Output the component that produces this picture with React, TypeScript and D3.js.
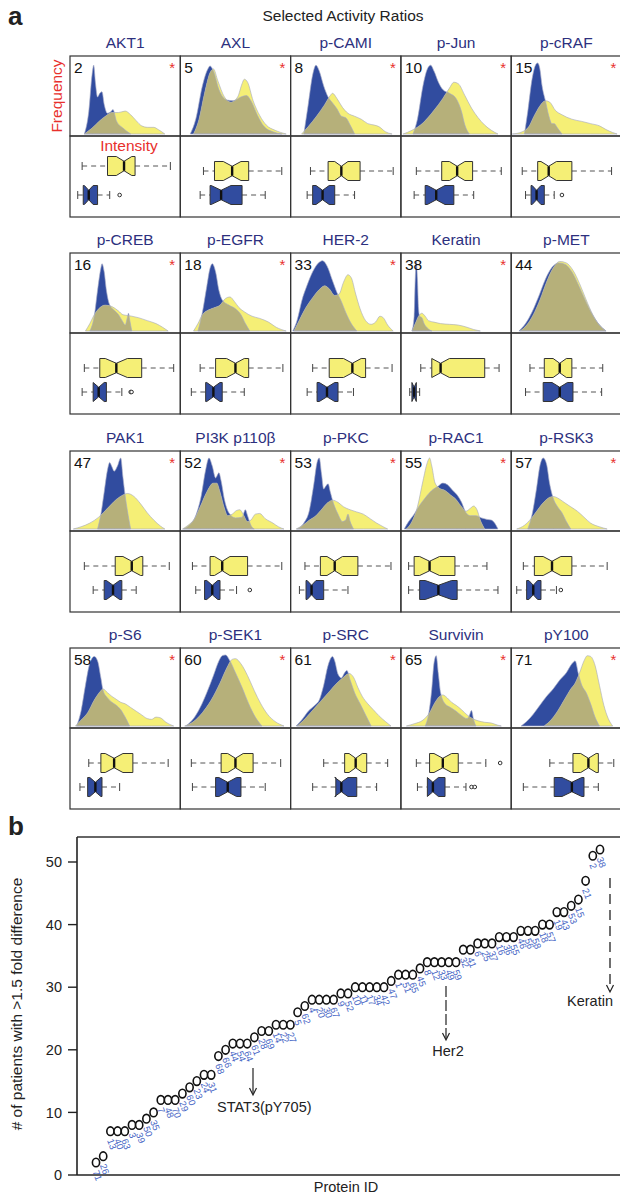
import React from "react";
import * as d3 from "d3";

// ---- panel a: selected activity ratios ----
const proteins = ["AKT1", "AXL", "p-CAMI", "p-Jun", "p-cRAF", "p-CREB", "p-EGFR", "HER-2", "Keratin", "p-MET",
  "PAK1", "PI3K p110β", "p-PKC", "p-RAC1", "p-RSK3", "p-S6", "p-SEK1", "p-SRC", "Survivin", "pY100"];
const proteinNums = [2, 5, 8, 10, 15, 16, 18, 33, 38, 44, 47, 52, 53, 55, 57, 58, 60, 61, 65, 71];
const significant = [1, 1, 1, 1, 1, 1, 1, 1, 1, 0, 1, 1, 1, 1, 1, 1, 1, 1, 1, 1];

// density curves: [intensity %, frequency %]
const blueDensity: number[][][] = [
  [[13, 0], [17, 30], [20, 80], [21.5, 93], [23, 70], [25, 50], [27, 55], [29, 57], [31, 40], [34, 28], [37, 30], [39, 33], [42, 18], [48, 8], [55, 0]],
  [[9, 0], [14, 20], [20, 65], [25, 88], [27, 92], [30, 85], [35, 60], [42, 46], [48, 45], [55, 50], [60, 52], [64, 45], [70, 25], [76, 10], [84, 3], [92, 0]],
  [[12, 0], [16, 40], [20, 80], [23, 93], [26, 85], [30, 65], [34, 50], [38, 42], [42, 34], [46, 24], [50, 22], [54, 12], [58, 0]],
  [[11, 0], [15, 20], [20, 65], [24, 88], [27, 93], [30, 85], [34, 70], [38, 60], [44, 55], [50, 48], [55, 30], [58, 12], [62, 0]],
  [[12, 0], [15, 30], [19, 75], [22, 93], [24, 96], [26, 88], [28, 65], [31, 45], [34, 25], [37, 14], [39, 14], [42, 8], [46, 0]],
  [[18, 0], [22, 20], [25, 55], [28, 85], [29, 91], [31, 80], [33, 55], [36, 35], [40, 28], [44, 22], [48, 12], [50, 8], [52, 18], [53, 24], [54, 16], [56, 0]],
  [[16, 0], [20, 25], [24, 60], [27, 85], [29, 91], [32, 80], [35, 55], [38, 42], [44, 35], [50, 30], [55, 22], [59, 10], [63, 0]],
  [[2, 0], [6, 15], [10, 40], [15, 62], [20, 80], [26, 93], [29, 95], [33, 88], [38, 68], [42, 52], [46, 40], [50, 25], [55, 10], [60, 0]],
  [[10, 0], [12, 20], [13, 70], [14, 95], [15, 70], [16, 30], [17, 20], [19, 18], [21, 10], [24, 4], [28, 0]],
  [[7, 0], [13, 10], [19, 26], [25, 47], [31, 70], [37, 86], [43, 92], [49, 90], [55, 80], [61, 62], [67, 42], [73, 24], [79, 10], [86, 0]],
  [[25, 0], [28, 20], [31, 50], [34, 80], [36, 90], [38, 84], [40, 78], [43, 85], [46, 96], [48, 70], [50, 45], [52, 25], [55, 0]],
  [[3, 0], [8, 5], [14, 18], [19, 45], [23, 80], [26, 96], [29, 85], [32, 69], [35, 76], [37, 65], [40, 40], [44, 22], [50, 15], [56, 16], [59, 26], [61, 18], [64, 5], [67, 0]],
  [[6, 0], [12, 8], [17, 25], [21, 60], [24, 90], [26, 96], [28, 75], [30, 54], [32, 58], [34, 61], [36, 50], [39, 34], [43, 20], [47, 10], [50, 12], [52, 20], [54, 10], [57, 0]],
  [[3, 0], [7, 10], [12, 20], [17, 32], [22, 42], [28, 52], [34, 58], [38, 62], [42, 60], [47, 52], [51, 46], [55, 36], [59, 22], [63, 18], [68, 18], [73, 15], [78, 13], [82, 12], [85, 8], [88, 0]],
  [[15, 0], [19, 20], [23, 55], [26, 85], [29, 96], [32, 88], [35, 60], [38, 42], [42, 30], [46, 22], [50, 10], [54, 0]],
  [[6, 0], [10, 20], [14, 55], [18, 85], [22, 94], [25, 88], [28, 65], [30, 48], [34, 38], [38, 32], [42, 28], [46, 22], [50, 12], [54, 0]],
  [[5, 0], [12, 10], [18, 25], [24, 45], [30, 68], [35, 88], [38, 95], [41, 96], [45, 88], [50, 72], [56, 52], [62, 30], [68, 12], [74, 0]],
  [[5, 0], [10, 8], [16, 20], [22, 28], [26, 35], [30, 55], [34, 82], [38, 94], [40, 88], [43, 70], [46, 65], [49, 72], [51, 75], [54, 62], [58, 45], [63, 30], [68, 15], [73, 0]],
  [[22, 0], [25, 15], [28, 50], [30, 85], [32, 95], [34, 70], [36, 45], [40, 30], [45, 25], [50, 20], [55, 14], [60, 10], [62, 14], [64, 21], [66, 8], [68, 0]],
  [[9, 0], [14, 6], [20, 16], [26, 28], [32, 40], [38, 50], [44, 62], [50, 72], [55, 84], [58, 88], [61, 70], [64, 55], [68, 45], [72, 30], [76, 12], [80, 0]],
];
const yellowDensity: number[][][] = [
  [[13, 0], [20, 8], [27, 18], [33, 25], [38, 29], [44, 29], [50, 31], [55, 26], [60, 18], [65, 11], [70, 9], [76, 9], [80, 6], [86, 0]],
  [[12, 0], [17, 20], [22, 55], [27, 83], [30, 88], [34, 72], [40, 50], [46, 43], [52, 50], [56, 68], [58, 74], [61, 70], [66, 45], [72, 25], [78, 12], [86, 5], [96, 0]],
  [[10, 0], [16, 10], [24, 25], [31, 40], [36, 52], [38, 55], [42, 48], [47, 36], [52, 28], [58, 24], [64, 20], [70, 14], [76, 12], [80, 10], [86, 3], [92, 0]],
  [[2, 0], [10, 5], [20, 15], [30, 32], [38, 48], [44, 62], [48, 70], [52, 68], [58, 52], [64, 35], [70, 22], [76, 12], [82, 5], [88, 0]],
  [[1, 0], [10, 3], [16, 10], [21, 25], [26, 38], [31, 45], [35, 43], [40, 32], [46, 26], [55, 20], [64, 17], [72, 14], [80, 11], [86, 6], [92, 2], [96, 0]],
  [[14, 0], [18, 10], [22, 22], [26, 30], [32, 35], [38, 33], [44, 27], [48, 22], [52, 21], [56, 20], [62, 18], [70, 14], [78, 10], [84, 5], [89, 0]],
  [[12, 0], [16, 10], [20, 22], [25, 28], [30, 31], [36, 35], [41, 44], [45, 46], [49, 40], [53, 32], [58, 26], [65, 20], [72, 17], [80, 12], [87, 5], [96, 0]],
  [[3, 0], [8, 15], [14, 32], [20, 45], [26, 56], [31, 61], [35, 57], [40, 48], [44, 50], [48, 66], [52, 76], [55, 72], [59, 50], [63, 30], [68, 14], [73, 9], [77, 12], [81, 20], [84, 18], [88, 8], [93, 0]],
  [[10, 0], [13, 10], [16, 20], [19, 24], [22, 20], [25, 14], [30, 12], [36, 10], [44, 9], [52, 8], [60, 5], [66, 2], [72, 0]],
  [[8, 0], [14, 8], [20, 22], [26, 42], [32, 66], [38, 85], [44, 94], [50, 92], [56, 82], [62, 64], [68, 42], [74, 22], [80, 8], [86, 0]],
  [[3, 0], [10, 3], [18, 8], [26, 16], [34, 28], [42, 40], [48, 46], [52, 48], [58, 44], [64, 34], [70, 22], [76, 12], [82, 4], [86, 0]],
  [[2, 0], [7, 5], [12, 12], [18, 30], [24, 50], [30, 62], [33, 62], [36, 50], [40, 28], [43, 18], [47, 20], [51, 25], [54, 26], [57, 20], [61, 10], [64, 12], [68, 20], [72, 21], [77, 14], [84, 8], [89, 3], [94, 0]],
  [[5, 0], [11, 5], [17, 12], [23, 18], [29, 28], [34, 36], [38, 39], [43, 36], [48, 30], [54, 26], [60, 23], [66, 20], [72, 14], [78, 8], [84, 3], [88, 0]],
  [[5, 0], [10, 10], [15, 30], [20, 65], [24, 90], [26, 96], [28, 85], [31, 62], [35, 55], [40, 52], [45, 46], [50, 40], [55, 30], [59, 24], [63, 28], [66, 31], [69, 26], [72, 12], [76, 0]],
  [[5, 0], [12, 5], [18, 14], [24, 26], [30, 37], [35, 43], [38, 44], [42, 42], [48, 36], [54, 30], [60, 24], [66, 16], [72, 8], [80, 3], [87, 0]],
  [[5, 0], [10, 8], [16, 18], [22, 35], [27, 46], [30, 50], [34, 45], [38, 40], [42, 36], [46, 32], [50, 30], [55, 25], [60, 20], [65, 15], [70, 10], [74, 9], [78, 12], [82, 11], [87, 5], [94, 0]],
  [[4, 0], [12, 6], [20, 18], [28, 35], [36, 58], [42, 78], [47, 90], [50, 91], [55, 84], [61, 68], [67, 48], [73, 30], [79, 16], [86, 6], [94, 0]],
  [[6, 0], [12, 8], [18, 18], [24, 28], [30, 38], [36, 48], [42, 58], [48, 66], [53, 71], [57, 66], [61, 52], [65, 40], [70, 30], [75, 22], [80, 14], [86, 6], [91, 0]],
  [[5, 0], [12, 3], [20, 8], [26, 18], [31, 32], [35, 40], [38, 42], [42, 38], [46, 32], [50, 28], [55, 22], [60, 15], [65, 10], [70, 7], [76, 5], [82, 4], [88, 1], [91, 0]],
  [[30, 0], [36, 8], [42, 20], [48, 35], [54, 50], [58, 58], [62, 72], [66, 88], [69, 95], [72, 94], [76, 82], [80, 55], [84, 28], [88, 10], [92, 0]],
];

// box plots: [whisker low, Q1, median, Q3, whisker high, notch]
const yellowBox = [
  [11, 34, 49, 59, 91, 7], [21, 31, 47, 62, 92, 8], [18, 34, 46, 63, 93, 6], [14, 37, 51, 65, 91, 7], [10, 24, 34, 55, 91, 7],
  [13, 27, 42, 65, 94, 10], [18, 32, 50, 62, 93, 8], [20, 35, 56, 68, 92, 8], [18, 28, 36, 76, 89, 8], [17, 30, 44, 55, 83, 6],
  [13, 41, 56, 66, 90, 8], [11, 27, 38, 61, 92, 7], [13, 27, 40, 61, 91, 7], [7, 12, 26, 49, 78, 9], [11, 21, 37, 55, 87, 8],
  [17, 28, 40, 57, 89, 8], [10, 37, 50, 66, 91, 7], [30, 49, 59, 69, 88, 6], [14, 26, 38, 52, 77, 8], [35, 56, 70, 79, 93, 7],
];
const blueBox = [
  [7, 12, 17, 25, 36, 4], [18, 27, 37, 56, 77, 9], [15, 20, 29, 40, 58, 6], [12, 22, 32, 48, 66, 8], [13, 18, 23, 30, 39, 4],
  [11, 21, 26, 33, 47, 5], [10, 23, 30, 38, 58, 6], [15, 24, 33, 43, 57, 7], [8, 10, 12, 14, 17, 2], [13, 29, 44, 56, 82, 7],
  [21, 31, 39, 47, 60, 6], [14, 22, 29, 36, 51, 5], [8, 14, 19, 30, 52, 4], [7, 17, 34, 51, 88, 12], [5, 14, 20, 27, 41, 4],
  [9, 16, 23, 29, 45, 5], [11, 32, 43, 55, 77, 8], [20, 41, 46, 60, 78, 6], [15, 24, 29, 40, 59, 5], [11, 39, 55, 66, 79, 9],
];
const yellowOutliers = [[], [], [], [], [], [], [], [], [], [], [], [], [], [], [], [], [], [], [90], []];
const blueOutliers = [[45], [], [], [], [46], [55, 55.8], [], [], [], [], [], [63], [], [], [45], [], [], [], [64, 67], []];

// ---- panel b: patients with >1.5 fold difference ----
const proteinOrder = [71, 26, 13, 40, 63, 3, 39, 50, 35, 7, 48, 70, 29, 60, 23, 24, 31, 68, 66, 44, 54, 64, 61, 28, 69,
  14, 22, 27, 5, 62, 4, 20, 30, 67, 9, 52, 10, 11, 17, 34, 42, 47, 1, 51, 65, 45, 8, 12, 33, 49, 59, 32, 41, 6, 25,
  37, 16, 36, 55, 46, 56, 58, 18, 57, 19, 43, 53, 15, 21, 2, 38];
const patientCounts = [2, 3, 7, 7, 7, 8, 8, 9, 10, 12, 12, 12, 13, 14, 15, 16, 16, 19, 20, 21, 21, 21, 22, 23, 23,
  24, 24, 24, 26, 27, 28, 28, 28, 28, 29, 29, 30, 30, 30, 30, 30, 31, 32, 32, 32, 33, 34, 34, 34, 34, 34, 36, 36, 37, 37,
  37, 38, 38, 38, 39, 39, 39, 40, 40, 42, 42, 43, 44, 47, 51, 52];
const yTicks = [0, 10, 20, 30, 40, 50];

const FONT = "Arial, 'Liberation Sans', Helvetica, sans-serif";
const BLUE = "#314c9f";
const YELLOW = "#f5ef76";
const OLIVE = "#b6b07a";
const NAVY = "#2d307e";
const RED = "#e8302c";

const colLeft = 70;
const colW = 110.3;
const rowTops = [56, 253, 451, 648];
const densH = 80;
const boxH = 81;

function BoxPlot({ s, px, cy, fill, outliers }: { s: number[]; px: d3.ScaleLinear<number, number>; cy: number; fill: string; outliers: number[] }) {
  const [lo, q1, m, q3, hi, n] = s;
  const h = 19;
  const top = cy - h / 2, bot = cy + h / 2, d = h / 4;
  const nw = (n / 100) * colW;
  const xm = px(m);
  const poly = [
    [px(q1), top], [xm - nw, top], [xm, top + d], [xm + nw, top], [px(q3), top],
    [px(q3), bot], [xm + nw, bot], [xm, bot - d], [xm - nw, bot], [px(q1), bot],
  ];
  return (
    <g>
      <line x1={px(lo)} x2={px(q1)} y1={cy} y2={cy} stroke="#555" strokeWidth={1} strokeDasharray="5,4" />
      <line x1={px(q3)} x2={px(hi)} y1={cy} y2={cy} stroke="#555" strokeWidth={1} strokeDasharray="5,4" />
      <line x1={px(lo)} x2={px(lo)} y1={cy - 4} y2={cy + 4} stroke="#444" strokeWidth={1} />
      <line x1={px(hi)} x2={px(hi)} y1={cy - 4} y2={cy + 4} stroke="#444" strokeWidth={1} />
      <path d={d3.line()(poly as [number, number][]) + "Z"} fill={fill} stroke="#333" strokeWidth={1} />
      <line x1={xm} x2={xm} y1={top + d} y2={bot - d} stroke="#111" strokeWidth={2.4} />
      {outliers.map((o, k) => (
        <circle key={k} cx={px(o)} cy={cy} r={1.8} fill="#fff" stroke="#333" strokeWidth={1} />
      ))}
    </g>
  );
}

export default function App() {
  const panels = proteins.map((name, i) => {
    const r = Math.floor(i / 5), c = i % 5;
    const left = colLeft + c * colW;
    const top = rowTops[r];
    const mid = top + densH;
    const px = d3.scaleLinear().domain([0, 100]).range([left, left + colW]);
    const py = d3.scaleLinear().domain([0, 100]).range([top + 78, top + 4]);
    const area = d3.area<number[]>().x(p => px(p[0])).y0(py(0)).y1(p => py(p[1])).curve(d3.curveMonotoneX);
    const bA = area(blueDensity[i]) || "";
    const yA = area(yellowDensity[i]) || "";
    const yCy = i === 0 ? mid + 30 : mid + 35;
    const bCy = mid + 59;
    return (
      <g key={name}>
        <text x={left + colW / 2} y={top - 8} textAnchor="middle" fontSize={15.5} fill={NAVY}>{name}</text>
        <clipPath id={`cb${i}`}><path d={bA} /></clipPath>
        <path d={bA} fill={BLUE} />
        <path d={yA} fill={YELLOW} />
        <path d={yA} fill={OLIVE} clipPath={`url(#cb${i})`} />
        <path d={bA} fill="none" stroke="#a4a9c4" strokeWidth={0.8} strokeOpacity={0.8} />
        <path d={yA} fill="none" stroke="#a9abbd" strokeWidth={0.8} strokeOpacity={0.8} />
        <rect x={left} y={top} width={colW} height={densH} fill="none" stroke="#333" strokeWidth={1.2} />
        <rect x={left} y={mid} width={colW} height={boxH} fill="none" stroke="#333" strokeWidth={1.2} />
        <text x={left + 4} y={top + 17} fontSize={15.5} fill="#111">{proteinNums[i]}</text>
        {significant[i] ? (
          <text x={left + colW - 11} y={top + 17} fontSize={15} fill={RED}>*</text>
        ) : null}
        <BoxPlot s={yellowBox[i]} px={px} cy={yCy} fill={YELLOW} outliers={yellowOutliers[i]} />
        <BoxPlot s={blueBox[i]} px={px} cy={bCy} fill={BLUE} outliers={blueOutliers[i]} />
      </g>
    );
  });

  // panel b scales
  const x = d3.scaleLinear().domain([0, proteinOrder.length - 1]).range([96, 600]);
  const y = d3.scaleLinear().domain([0, 50]).range([1175, 862]);
  const axL = 77, axT = 837, axB = y(0);

  return (
    <svg width={620} height={1196} style={{ position: "absolute", left: 0, top: 0, background: "#fff" }} fontFamily={FONT}>
      <rect width={620} height={1196} fill="#fff" />
      <text x={8} y={25} fontSize={26} fontWeight="bold" fill="#222">a</text>
      <text x={343} y={21} textAnchor="middle" fontSize={15.5} fill="#222">Selected Activity Ratios</text>
      <text transform="translate(62,96) rotate(-90)" textAnchor="middle" fontSize={15.5} fill={RED}>Frequency</text>
      {panels}
      <text x={129} y={151} textAnchor="middle" fontSize={15.5} fill={RED}>Intensity</text>

      {/* panel b */}
      <text x={8} y={835} fontSize={26} fontWeight="bold" fill="#222">b</text>
      <line x1={axL} x2={620} y1={axT} y2={axT} stroke="#333" strokeWidth={1.3} />
      <line x1={axL} x2={axL} y1={axT} y2={axB} stroke="#222" strokeWidth={1.6} />
      <line x1={axL} x2={620} y1={axB} y2={axB} stroke="#222" strokeWidth={1.6} />
      {yTicks.map(t => (
        <g key={t}>
          <line x1={68} x2={axL} y1={y(t)} y2={y(t)} stroke="#222" strokeWidth={1.4} />
          <text x={62} y={y(t)} dy="0.36em" textAnchor="end" fontSize={14.5} fill="#222">{t}</text>
        </g>
      ))}
      <text transform={`translate(22,1004) rotate(-90)`} textAnchor="middle" fontSize={15.5} fill="#222">
        # of patients with &gt;1.5 fold difference
      </text>
      <text x={346} y={1192} textAnchor="middle" fontSize={14.5} fill="#222">Protein ID</text>

      {patientCounts.map((v, i) => (
        <g key={i}>
          <ellipse cx={x(i)} cy={y(v)} rx={3.6} ry={4.3} fill="#fff" stroke="#111" strokeWidth={1.6} />
          <text transform={`translate(${x(i) - 3.5},${y(v) + 9}) rotate(70)`} fontSize={9.5} fill="#4463c4">
            {proteinOrder[i]}
          </text>
        </g>
      ))}

      {/* annotations */}
      <line x1={253} x2={253} y1={1068} y2={1094} stroke="#222" strokeWidth={1.2} />
      <path d="M249.5,1088 L253,1095 L256.5,1088" fill="none" stroke="#222" strokeWidth={1.2} />
      <text x={217} y={1112} fontSize={14.5} fill="#222">STAT3(pY705)</text>

      <line x1={446} x2={446} y1={986} y2={1039} stroke="#222" strokeWidth={1.2} strokeDasharray="11,3" />
      <path d="M442.5,1033 L446,1040 L449.5,1033" fill="none" stroke="#222" strokeWidth={1.2} />
      <text x={448} y={1056} textAnchor="middle" fontSize={14.5} fill="#222">Her2</text>

      <line x1={610} x2={610} y1={878} y2={991} stroke="#222" strokeWidth={1.3} strokeDasharray="10,6" />
      <path d="M606.5,985 L610,992 L613.5,985" fill="none" stroke="#222" strokeWidth={1.2} />
      <text x={567} y={1006} fontSize={14.5} fill="#222">Keratin</text>
    </svg>
  );
}
